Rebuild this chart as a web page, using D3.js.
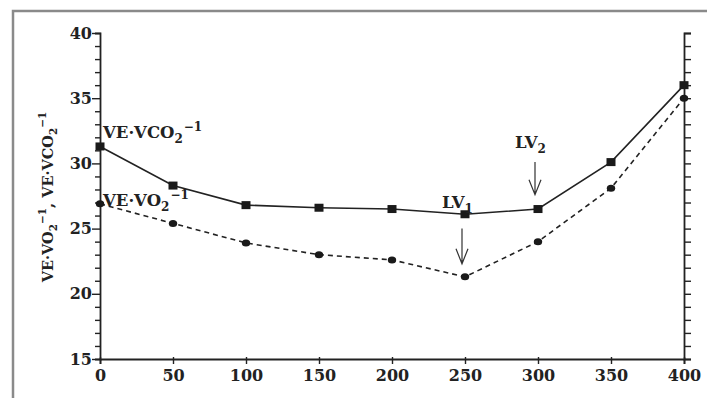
<!DOCTYPE html>
<html>
<head>
<meta charset="utf-8">
<script src="https://cdn.jsdelivr.net/npm/d3@7"></script>
<style>
  body { margin: 0; background: #fff; }
  text { font-family: "DejaVu Serif", "Liberation Serif", serif; font-weight: bold; fill: #222; }
</style>
</head>
<body>
<div id="chart"></div>
<script>
// workload steps and the two ventilatory equivalents
var loads = [0, 50, 100, 150, 200, 250, 300, 350, 400];
var veVco2 = [31.3, 28.3, 26.8, 26.6, 26.5, 26.1, 26.5, 30.1, 36.0];
var veVo2 = [26.9, 25.4, 23.9, 23.0, 22.6, 21.3, 24.0, 28.1, 35.0];
var xTicks = [0, 50, 100, 150, 200, 250, 300, 350, 400];
var yTicks = [15, 20, 25, 30, 35, 40];
// thresholds: load, label level, arrow top and arrow tip values
var thresholds = [
  {load: 250, sub: "1", labelAt: 26.6, from: 25.0, to: 22.3},
  {load: 300, sub: "2", labelAt: 31.2, from: 30.1, to: 27.6}
];

var width = 707, height = 398;

var svg = d3.select("#chart").append("svg")
    .attr("width", width)
    .attr("height", height);

// grey frame of the scanned figure
svg.append("path")
    .attr("d", "M13,398V11H707")
    .attr("fill", "none")
    .attr("stroke", "#8a8a8a")
    .attr("stroke-width", 2.5);

var x = d3.scaleLinear().domain([0, 400]).range([100, 684]);
var y = d3.scaleLinear().domain([15, 40]).range([359, 33]);

var minor = d3.range(15, 41);

var left = svg.append("g")
    .attr("transform", "translate(100,0)")
    .call(d3.axisLeft(y).tickValues(minor).tickSize(5).tickPadding(3)
      .tickFormat(function(d) { return yTicks.indexOf(d) >= 0 ? d : ""; }));
left.selectAll(".tick line")
    .attr("x1", 1)
    .attr("x2", function(d) { return yTicks.indexOf(d) >= 0 ? -8 : -5; });

var right = svg.append("g")
    .attr("transform", "translate(684,0)")
    .call(d3.axisRight(y).tickValues(minor).tickSize(7).tickFormat(""));

var bottom = svg.append("g")
    .attr("transform", "translate(0,359)")
    .call(d3.axisBottom(x).tickValues(xTicks).tickSize(5).tickPadding(6));
bottom.selectAll(".tick line").attr("y1", -2);

svg.selectAll(".domain").attr("stroke", "#222").attr("stroke-width", 1.8);
svg.selectAll(".tick line").attr("stroke", "#222").attr("stroke-width", 1.4);
svg.selectAll(".tick text")
    .style("font-family", "'DejaVu Serif', serif")
    .style("font-weight", "bold")
    .style("font-size", "16px")
    .attr("fill", "#222");

var line = d3.line()
    .x(function(d, i) { return x(loads[i]); })
    .y(function(d) { return y(d); });

svg.append("path")
    .datum(veVo2)
    .attr("d", line)
    .attr("fill", "none")
    .attr("stroke", "#222")
    .attr("stroke-width", 1.6)
    .attr("stroke-dasharray", "5,4");

svg.append("path")
    .datum(veVco2)
    .attr("d", line)
    .attr("fill", "none")
    .attr("stroke", "#222")
    .attr("stroke-width", 1.6);

svg.selectAll(".sq")
    .data(veVco2)
    .enter().append("rect")
    .attr("class", "sq")
    .attr("x", function(d, i) { return x(loads[i]) - 4.5; })
    .attr("y", function(d) { return y(d) - 4; })
    .attr("width", 9)
    .attr("height", 8)
    .attr("fill", "#1a1a1a");

svg.selectAll(".dot")
    .data(veVo2)
    .enter().append("ellipse")
    .attr("class", "dot")
    .attr("cx", function(d, i) { return x(loads[i]); })
    .attr("cy", function(d) { return y(d); })
    .attr("rx", 4.2)
    .attr("ry", 3.5)
    .attr("fill", "#1a1a1a");

// series labels
function label(txt, sub, xp, yp, sup) {
  var t = svg.append("text")
      .attr("x", xp)
      .attr("y", yp)
      .style("font-size", "16.5px");
  t.append("tspan").text(txt);
  t.append("tspan").attr("dy", 5).style("font-size", "12px").text(sub);
  if (sup) t.append("tspan").attr("dy", -12).attr("dx", 1).style("font-size", "12px").text(sup);
  return t;
}
label("VE·VCO", "2", 103, 138, "−1");
label("VE·VO", "2", 103, 206, "−1");

thresholds.forEach(function(d) {
  var cx = x(d.load) - 3;
  label("LV", d.sub, cx - 20, y(d.labelAt));
  var y0 = y(d.from), y1 = y(d.to);
  svg.append("path")
      .attr("d", "M" + cx + "," + y0 + "V" + y1 +
        "M" + (cx - 6) + "," + (y1 - 15) + "L" + cx + "," + y1 + "L" + (cx + 6) + "," + (y1 - 15))
      .attr("fill", "none")
      .attr("stroke", "#333")
      .attr("stroke-width", 1.2);
});

// y axis title
var yt = svg.append("text")
    .attr("transform", "translate(53,197) rotate(-90)")
    .attr("text-anchor", "middle")
    .style("font-size", "14.5px");
yt.append("tspan").text("VE·VO");
yt.append("tspan").attr("dy", 4).style("font-size", "10.5px").text("2");
yt.append("tspan").attr("dy", -11).style("font-size", "10.5px").text("−1");
yt.append("tspan").attr("dy", 7).text(", VE·VCO");
yt.append("tspan").attr("dy", 4).style("font-size", "10.5px").text("2");
yt.append("tspan").attr("dy", -11).style("font-size", "10.5px").text("−1");
</script>
</body>
</html>
